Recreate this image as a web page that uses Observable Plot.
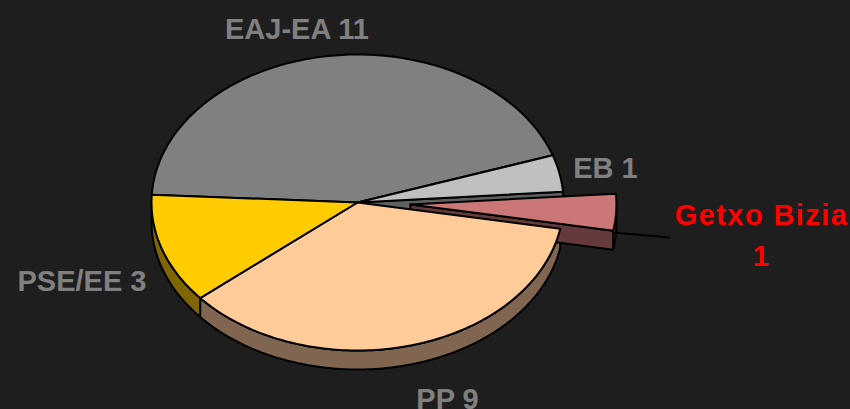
<!DOCTYPE html>
<html><head><meta charset="utf-8">
<script src="https://cdn.jsdelivr.net/npm/d3@7"></script>
<script src="https://cdn.jsdelivr.net/npm/@observablehq/plot@0.6"></script>
<style>html,body{margin:0;padding:0;background:#1e1e1e;overflow:hidden}</style>
</head><body><div id="chart"></div>
<script>
// ---- data ----
const parties = ["EAJ-EA", "EB", "Getxo Bizia", "PP", "PSE/EE"];
const seats = [11, 1, 1, 9, 3];
const labels = ["EAJ-EA 11", "EB 1", "Getxo Bizia\n1", "PP 9", "PSE/EE 3"];
const exploded = [false, false, true, false, false];

// ---- styles ----
const topColors = ["#808080", "#c0c0c0", "#cc7777", "#ffcc99", "#ffcc00"];
const sideColors = ["#404040", "#5f5f5f", "#643a3a", "#806650", "#806600"];
const labelColors = ["#808080", "#808080", "#ff0000", "#808080", "#808080"];

// ---- layout ----
const W = 850, H = 409;
const cx = 357, cy = 202, rx = 206, ry = 148, depth = 19, explodeDist = 53;
const startDeg = 177;
const labelX = [296.5, 605, 761, 447, 81.5];
const labelY = [25.7, 164.7, 231.5, 395.5, 277.7];
const labelSpacing = [0, 0, 1.4, 0, 0];
const leaderEnd = [669, 237];

const total = d3.sum(seats);
let acc = startDeg;
const slices = parties.map((p, i) => {
  const span = seats[i] / total * 360;
  const s = {p, i, a0: acc, a1: acc - span};
  acc -= span;
  const mid = (s.a0 + s.a1) / 2 * Math.PI / 180;
  s.ox = exploded[i] ? explodeDist * Math.cos(mid) : 0;
  s.oy = exploded[i] ? -explodeDist * Math.sin(mid) * ry / rx : 0;
  return s;
});

function pt(theta, ox, oy, z) {
  const r = theta * Math.PI / 180;
  return [cx + ox + rx * Math.cos(r), cy + oy - ry * Math.sin(r) + z];
}
function arc(t0, t1, ox, oy, z) {
  const n = Math.max(2, Math.ceil(Math.abs(t1 - t0)) + 1);
  return d3.range(n).map(k => pt(t0 + (t1 - t0) * k / (n - 1), ox, oy, z));
}
const polys = {baseSides: [], baseTops: [], expSides: [], expTops: []};
let pid = 0;
function add(layer, pts, fill) {
  const id = pid++;
  const closed = pts.concat([pts[0]]);
  closed.forEach(([x, y]) => polys[layer].push({id, x, y, fill}));
}
slices.forEach((s, i) => {
  const ex = exploded[i];
  const sideLayer = ex ? "expSides" : "baseSides";
  const topLayer = ex ? "expTops" : "baseTops";
  // outer rim (front half)
  const lo = Math.max(s.a1, -180), hi = Math.min(s.a0, 0);
  if (hi > lo) {
    add(sideLayer, arc(hi, lo, s.ox, s.oy, 0).concat(arc(lo, hi, s.ox, s.oy, depth)), sideColors[i]);
  }
  // cut faces next to an exploded slice
  const n = slices.length;
  const faces = [
    {theta: s.a1, normal: s.a1 - 90, nb: (i + 1) % n},
    {theta: s.a0, normal: s.a0 + 90, nb: (i - 1 + n) % n}
  ];
  faces.forEach(f => {
    if (!(ex || exploded[f.nb])) return;
    if (Math.sin(f.normal * Math.PI / 180) >= 0) return;
    const c0 = [cx + s.ox, cy + s.oy];
    const r0 = pt(f.theta, s.ox, s.oy, 0), r1 = pt(f.theta, s.ox, s.oy, depth);
    add(sideLayer, [c0, r0, r1, [c0[0], c0[1] + depth]], sideColors[i]);
  });
  // top face
  add(topLayer, [[cx + s.ox, cy + s.oy]].concat(arc(s.a0, s.a1, s.ox, s.oy, 0)), topColors[i]);
});

const exI = exploded.indexOf(true);
const exS = slices[exI];
const ls = pt(exS.a1, exS.ox, exS.oy, depth * 0.1);
const leader = [{x: ls[0], y: ls[1]}, {x: leaderEnd[0], y: leaderEnd[1]}];

const labelData = labels.map((t, i) => ({t, x: labelX[i], y: labelY[i], c: labelColors[i], ls: labelSpacing[i]}));

const polyOpts = {x: "x", y: "y", z: "id", fill: "fill", stroke: "#000", strokeWidth: 2, strokeLinejoin: "round", curve: "linear"};
const textOpts = {x: "x", y: "y", text: "t", fill: "c", fontSize: 29, fontWeight: "bold",
  fontFamily: "'Liberation Sans', Arial, sans-serif", lineHeight: 1.42, textAnchor: "middle"};

const chart = Plot.plot({
  width: W, height: H,
  margin: 0,
  style: {background: "#1e1e1e"},
  x: {domain: [0, W], range: [0, W], axis: null},
  y: {domain: [0, H], range: [0, H], axis: null},
  color: {type: "identity"},
  marks: [
    Plot.line(polys.baseSides, polyOpts),
    Plot.line(polys.expSides, polyOpts),
    Plot.line(polys.baseTops, polyOpts),
    Plot.line(polys.expTops, polyOpts),
    Plot.line(leader, {x: "x", y: "y", stroke: "#000", strokeWidth: 2}),
    Plot.text(labelData.filter(d => d.ls === 0), textOpts),
    Plot.text(labelData.filter(d => d.ls !== 0), {...textOpts, className: "spaced"})
  ]
});
// widen the letter spacing of the red label, as in the reference
d3.select(chart).selectAll("text").filter(function() { return /Getxo/.test(this.textContent); })
  .style("letter-spacing", labelSpacing[exI] + "px");
document.getElementById("chart").appendChild(chart);
</script>
</body></html>
